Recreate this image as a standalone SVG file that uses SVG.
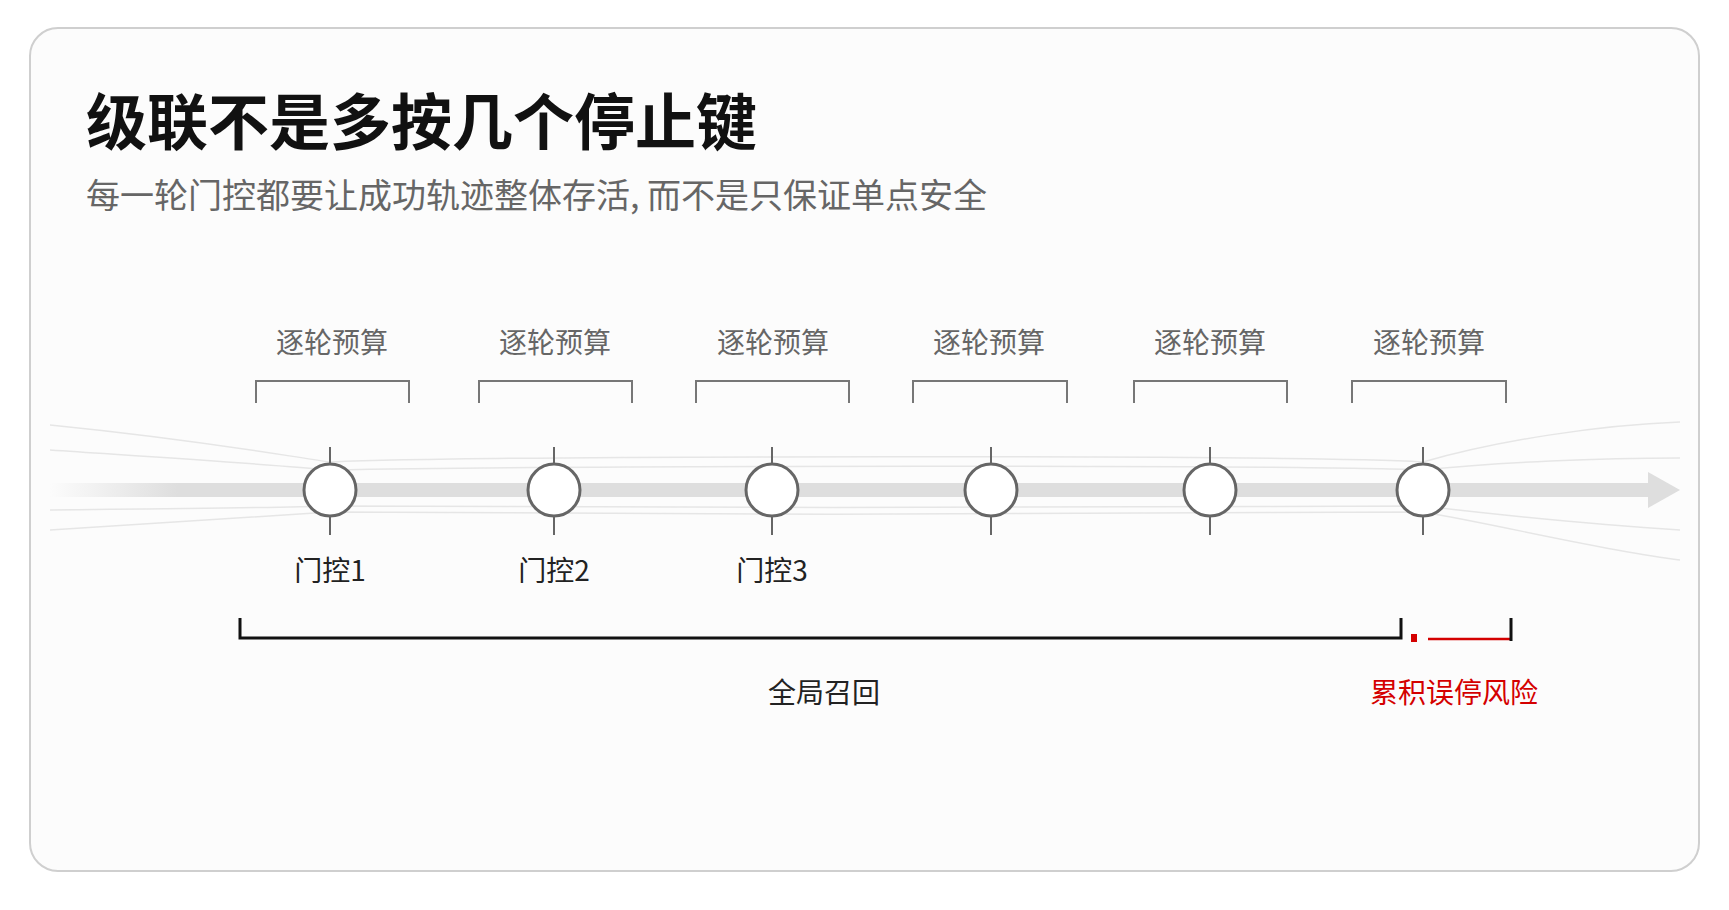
<svg xmlns="http://www.w3.org/2000/svg" width="1729" height="910" viewBox="0 0 1729 910">
<style>
.t{font-family:"Noto Sans CJK SC","Liberation Sans",sans-serif}
.lab{font-size:28px;fill:#666;text-anchor:middle}
.gl{font-size:28px;fill:#222;text-anchor:middle}
.br{fill:none;stroke:#777;stroke-width:2}
.nd{fill:#fff;stroke:#666;stroke-width:3}
.tk{stroke:#666;stroke-width:2}
.fl{fill:none;stroke:#e6e6e6;stroke-width:1.5}
</style>
<defs>
<linearGradient id="fade" x1="0" x2="1" y1="0" y2="0">
<stop offset="0" stop-color="#dedede" stop-opacity="0"/>
<stop offset="0.08" stop-color="#dedede"/>
<stop offset="1" stop-color="#dedede"/>
</linearGradient>
</defs>
<rect width="1729" height="910" fill="#fff"/>
<rect x="30" y="28" width="1669" height="843" rx="28" fill="#fcfcfc" stroke="#cfcfcf" stroke-width="2"/>
<text class="t" x="86" y="145" font-size="61" font-weight="bold" fill="#111">级联不是多按几个停止键</text>
<text class="t" x="86" y="208" font-size="34" fill="#666">每一轮门控都要让成功轨迹整体存活, 而不是只保证单点安全</text>
<g id="flow">
<path class="fl" d="M50 425 C200 440 280 455 330 462 C500 455 1300 455 1423 462 C1500 440 1600 425 1680 422"/>
<path class="fl" d="M50 450 C200 460 280 465 330 470 C600 465 1300 465 1423 470 C1500 462 1600 458 1680 458"/>
<path class="fl" d="M50 530 C200 520 280 515 330 512 C600 515 1300 515 1423 512 C1500 525 1600 550 1680 560"/>
<path class="fl" d="M50 510 C200 508 280 508 330 506 C600 508 1300 508 1423 506 C1500 515 1600 525 1680 530"/>
<rect x="50" y="483" width="1600" height="14" fill="url(#fade)"/>
<polygon points="1648,472 1680,490 1648,508" fill="#dedede"/>
</g>
<g id="connectors">
<path class="br" d="M256 403V381H409V403"/>
<path class="br" d="M479 403V381H632V403"/>
<path class="br" d="M696 403V381H849V403"/>
<path class="br" d="M913 403V381H1067V403"/>
<path class="br" d="M1134 403V381H1287V403"/>
<path class="br" d="M1352 403V381H1506V403"/>
<path d="M240 618V638H1401V618" fill="none" stroke="#111" stroke-width="3"/>
<rect x="1411" y="634" width="6" height="8" fill="#d40000"/>
<path d="M1428 639H1510" stroke="#d40000" stroke-width="2.5"/>
<path d="M1511 618V641" stroke="#111" stroke-width="3"/>
</g>
<g id="budgets" class="t">
<text class="lab" x="332" y="353">逐轮预算</text>
<text class="lab" x="555" y="353">逐轮预算</text>
<text class="lab" x="773" y="353">逐轮预算</text>
<text class="lab" x="989" y="353">逐轮预算</text>
<text class="lab" x="1210" y="353">逐轮预算</text>
<text class="lab" x="1429" y="353">逐轮预算</text>
</g>
<g id="gate1"><line class="tk" x1="330" y1="447" x2="330" y2="535"/><circle class="nd" cx="330" cy="490" r="26"/><text class="t gl" x="330" y="581">门控1</text></g>
<g id="gate2"><line class="tk" x1="554" y1="447" x2="554" y2="535"/><circle class="nd" cx="554" cy="490" r="26"/><text class="t gl" x="554" y="581">门控2</text></g>
<g id="gate3"><line class="tk" x1="772" y1="447" x2="772" y2="535"/><circle class="nd" cx="772" cy="490" r="26"/><text class="t gl" x="772" y="581">门控3</text></g>
<g id="gate4"><line class="tk" x1="991" y1="447" x2="991" y2="535"/><circle class="nd" cx="991" cy="490" r="26"/></g>
<g id="gate5"><line class="tk" x1="1210" y1="447" x2="1210" y2="535"/><circle class="nd" cx="1210" cy="490" r="26"/></g>
<g id="gate6"><line class="tk" x1="1423" y1="447" x2="1423" y2="535"/><circle class="nd" cx="1423" cy="490" r="26"/></g>
<g id="labels" class="t">
<text class="gl" x="824" y="703">全局召回</text>
<text x="1454" y="703" font-size="28" fill="#d40000" text-anchor="middle">累积误停风险</text>
</g>
</svg>
